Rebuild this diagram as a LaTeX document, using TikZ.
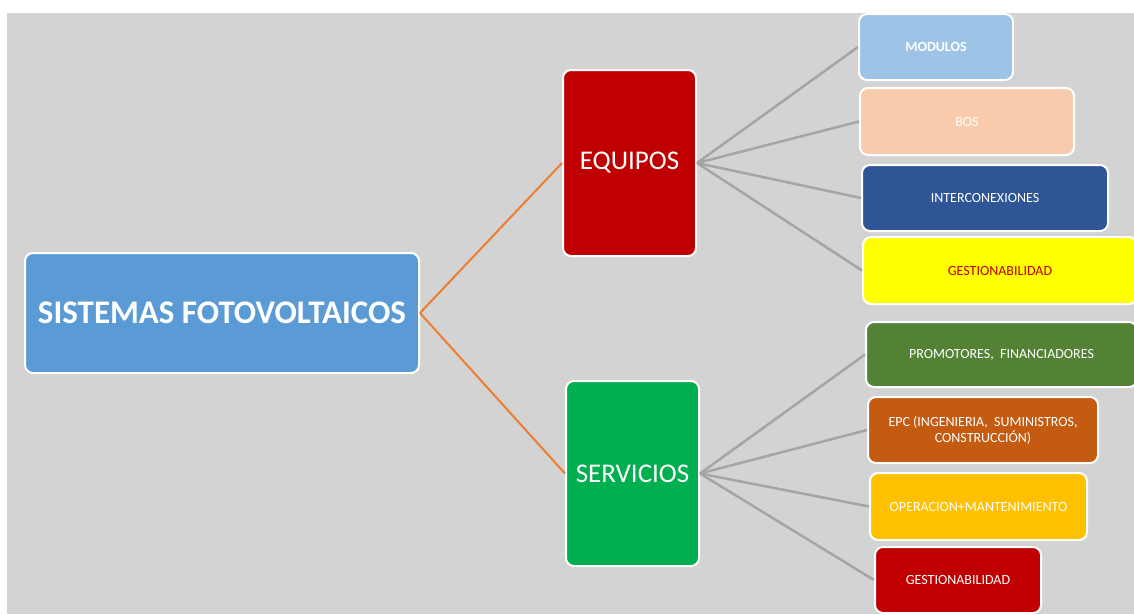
\documentclass[tikz,border=0pt]{standalone}
\usepackage{fontspec}
\setmainfont{Carlito}
\definecolor{bgc}{HTML}{D3D3D3}
\definecolor{mainc}{HTML}{5B9BD5}
\definecolor{equc}{HTML}{C00000}
\definecolor{serc}{HTML}{00B050}
\definecolor{modc}{HTML}{9DC3E6}
\definecolor{bosc}{HTML}{F8CBAD}
\definecolor{intc}{HTML}{2F5597}
\definecolor{yelc}{HTML}{FFFF00}
\definecolor{proc}{HTML}{548235}
\definecolor{epcc}{HTML}{C55A11}
\definecolor{opec}{HTML}{FFC000}
\definecolor{orc}{HTML}{ED7D31}
\definecolor{lnc}{HTML}{A5A5A5}
\tikzset{
  box/.style={draw=white, line width=2pt, rounded corners=8pt, inner sep=0pt, text=white, align=center},
  small/.style={box, font=\fontsize{14}{16}\selectfont},
  big/.style={box, font=\fontsize{27}{31}\selectfont},
  orl/.style={draw=orc, line width=2pt},
  grl/.style={draw=lnc, line width=2.5pt},
}
\begin{document}
\begin{tikzpicture}[x=1pt,y=-1pt]
\useasboundingbox (0,0) rectangle (1134,614);
\clip (0,0) rectangle (1134,614);
\fill[white] (0,0) rectangle (1134,614);
\fill[bgc] (7,13) rectangle (1134,614);
% nodes
\node[box, fill=mainc, minimum width=394pt, minimum height=120pt, font=\fontsize{33}{37}\selectfont\bfseries] (main) at (222,313) {SISTEMAS FOTOVOLTAICOS};
\node[big, fill=equc, minimum width=133pt, minimum height=186pt] (equ) at (629.5,163) {EQUIPOS};
\node[big, fill=serc, minimum width=133pt, minimum height=185pt] (ser) at (632.5,473.5) {SERVICIOS};
\node[small, fill=modc, minimum width=154pt, minimum height=66pt, font=\fontsize{14}{16}\selectfont\bfseries] (mod) at (936,47) {MODULOS};
\node[small, fill=bosc, minimum width=214pt, minimum height=67pt] (bos) at (967,121.5) {BOS};
\node[small, fill=intc, minimum width=246pt, minimum height=66pt] (int) at (985,198) {INTERCONEXIONES};
\node[small, fill=yelc, text=equc, minimum width=274pt, minimum height=67pt] (ges1) at (1000,270.5) {GESTIONABILIDAD};
\node[small, fill=proc, minimum width=271pt, minimum height=65pt] (pro) at (1001.5,354.5) {PROMOTORES,\ \ FINANCIADORES};
\node[small, fill=epcc, minimum width=230pt, minimum height=66pt] (epc) at (983,430) {EPC (INGENIERIA,\ \ SUMINISTROS,\\CONSTRUCCIÓN)};
\node[small, fill=opec, minimum width=217pt, minimum height=67pt] (ope) at (978.5,506.5) {OPERACION+MANTENIMIENTO};
\node[small, fill=equc, minimum width=166pt, minimum height=66pt] (ges2) at (958,580) {GESTIONABILIDAD};
% connectors
\draw[orl] (main.east) -- (equ.west);
\draw[orl] (main.east) -- (ser.west);
\foreach \t in {mod,bos,int,ges1}{\draw[grl] (equ.east) -- (\t.west);}
\foreach \t in {pro,epc,ope,ges2}{\draw[grl] (ser.east) -- (\t.west);}
\end{tikzpicture}
\end{document}
